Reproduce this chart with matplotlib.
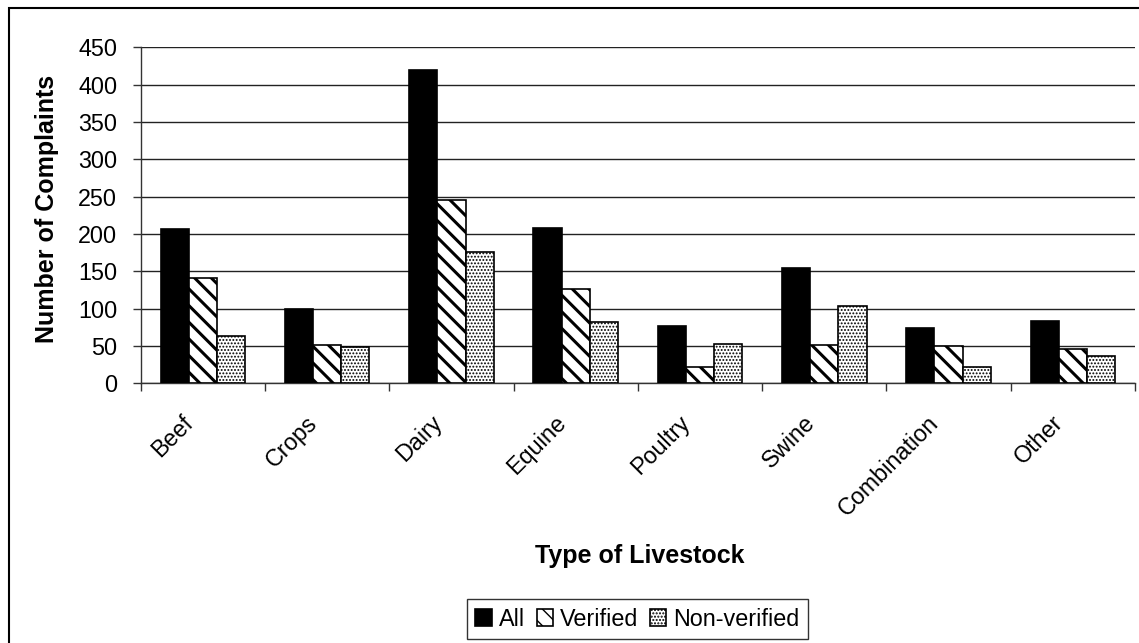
import numpy as np
import matplotlib
matplotlib.use('Agg')
from matplotlib import pyplot as plt
from matplotlib.patches import Rectangle
from matplotlib.transforms import ScaledTranslation

plt.rcParams['font.family'] = ['Liberation Sans', 'DejaVu Sans']

livestock = ['Beef', 'Crops', 'Dairy', 'Equine', 'Poultry', 'Swine', 'Combination', 'Other']
all_complaints = [206, 99, 420, 208, 77, 154, 74, 83]
verified = [141, 51, 245, 126, 22, 51, 50, 46]
non_verified = [64, 48, 176, 82, 53, 104, 22, 37]
series_names = ['All', 'Verified', 'Non-verified']

W, H = 1139, 643
fig = plt.figure(figsize=(W / 100, H / 100), dpi=100)
ax = fig.add_axes([140.7 / W, 1 - 383.3 / H, (1135 - 140.7) / W, 336 / H])

x = np.arange(len(livestock))
w = 0.227
styles = [dict(facecolor='black', hatch=None, hlw=1.0),
          dict(facecolor='white', hatch='\\\\', hlw=2.2),
          dict(facecolor='white', hatch='.....', hlw=0.9)]
handles = []
for i, (vals, st) in enumerate(zip([all_complaints, verified, non_verified], styles)):
    bars = ax.bar(x + (i - 1) * w, vals, w, facecolor=st['facecolor'], edgecolor='black',
                  linewidth=1.2, hatch=st['hatch'], label=series_names[i], zorder=3)
    for b in bars:
        if hasattr(b, 'set_hatch_linewidth'):
            b.set_hatch_linewidth(st['hlw'])
    handles.append(bars)

ax.set_xlim(-0.5, len(livestock) - 0.5)
ax.set_ylim(0, 450)
ax.set_yticks(np.arange(0, 451, 50))
ax.yaxis.grid(True, color='#222222', linewidth=1.0)
ax.set_axisbelow(True)
for s in ['top', 'right']:
    ax.spines[s].set_visible(False)
for s in ['left', 'bottom']:
    ax.spines[s].set_linewidth(1.0)
    ax.spines[s].set_color('#333333')

ax.tick_params(axis='y', direction='out', length=6, width=1, pad=10.8, labelsize=16.8, color='#333333')
ax.set_xticks(x)
ax.set_xticklabels(livestock, rotation=45, ha='right', va='center', rotation_mode='anchor')
ax.tick_params(axis='x', which='major', length=0, pad=26, labelsize=16.8)
ax.set_xticks(np.arange(-0.5, len(livestock), 1.0), minor=True)
ax.tick_params(axis='x', which='minor', direction='out', length=6, width=1, color='#333333')
shift = ScaledTranslation(-13 / 100, 0, fig.dpi_scale_trans)
for lab in ax.get_xticklabels():
    lab.set_transform(lab.get_transform() + shift)

fig.text(47 / W, 1 - 208.5 / H, 'Number of Complaints', rotation=90, ha='center', va='center',
         fontsize=18, fontweight='bold')
fig.text(639.5 / W, 1 - 556 / H, 'Type of Livestock', ha='center', va='center',
         fontsize=18, fontweight='bold')

leg = fig.legend(handles=handles, labels=series_names, loc='center', ncol=3,
                 bbox_to_anchor=(637.5 / W, 1 - 619 / H), fontsize=16.8, frameon=True,
                 fancybox=False, edgecolor='black', handlelength=0.7, handleheight=0.7,
                 handletextpad=0.3, columnspacing=0.5, borderpad=0.35)
leg.get_frame().set_linewidth(1.0)

# outer chart border (only top and left visible in the crop)
fig.patches.append(Rectangle((9.3 / W, -0.2), 1.5, 1.2 - 8 / H, transform=fig.transFigure,
                             fill=False, edgecolor='black', linewidth=1.5))

fig.savefig('out.png', dpi=100)
